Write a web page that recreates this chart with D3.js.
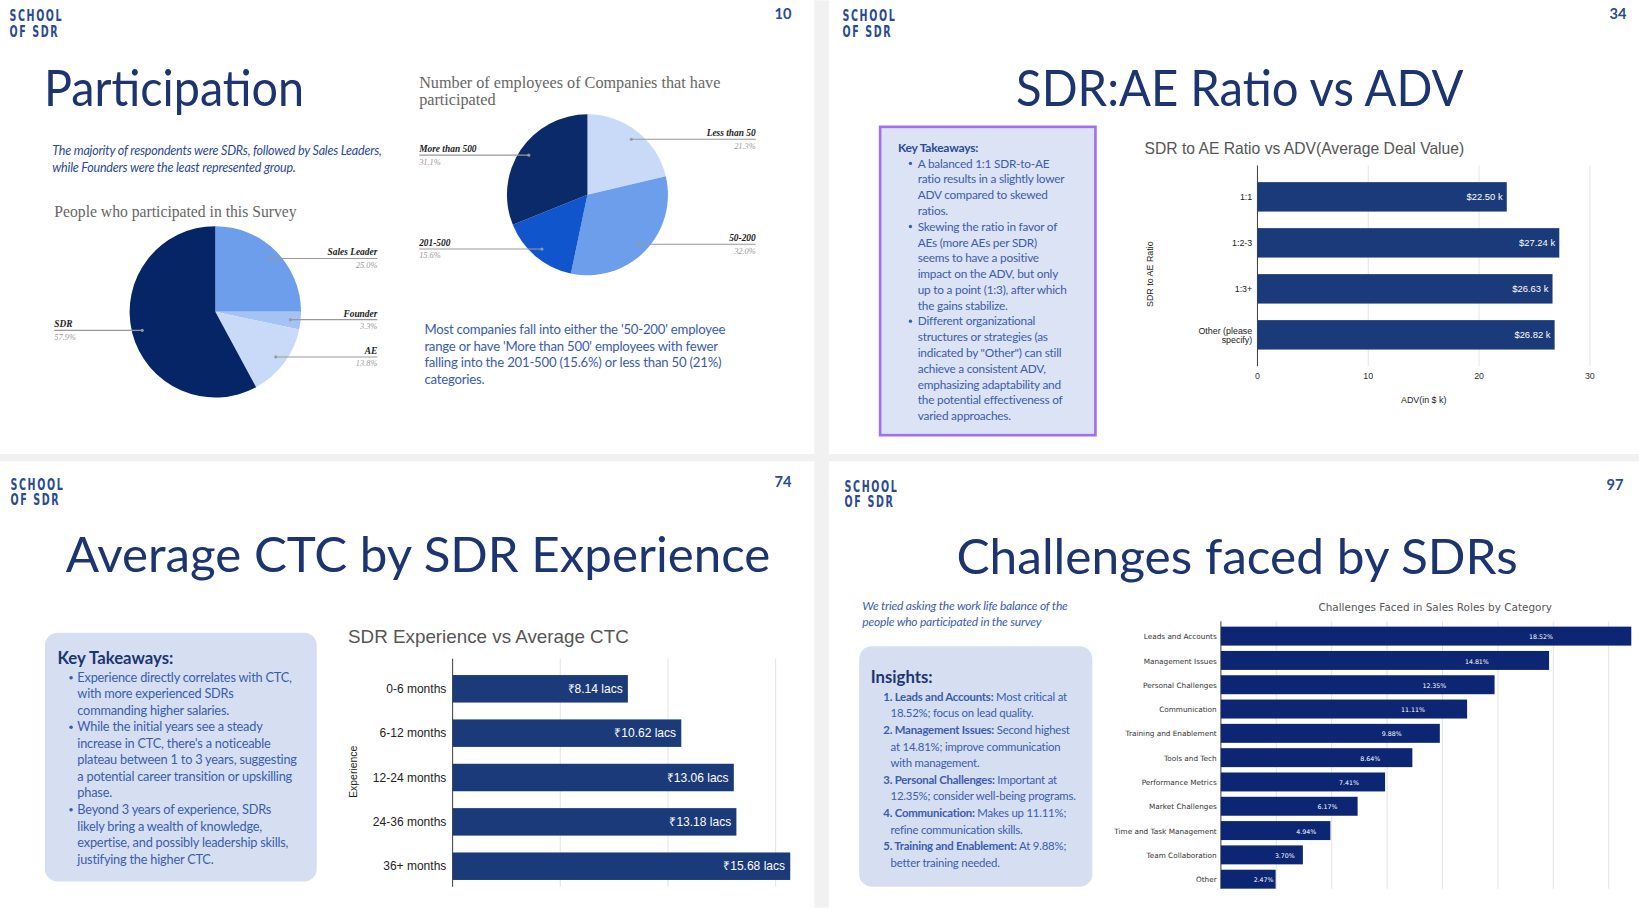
<!DOCTYPE html>
<html><head><meta charset="utf-8">
<script src="https://cdn.jsdelivr.net/npm/d3@7"></script>
<style>body{margin:0;background:#fff}svg{display:block}</style>
</head><body>
<script>
// ---- data ----
const roleLabels = ["Sales Leader","Founder","AE","SDR"];
const roleValues = [25.0,3.3,13.8,57.9];
const sizeLabels = ["Less than 50","50-200","201-500","More than 500"];
const sizeValues = [21.3,32.0,15.6,31.1];
const ratioCats = ["1:1","1:2-3","1:3+","Other (please specify)"];
const ratioValues = [22.50,27.24,26.63,26.82];
const ratioTicks = [0,10,20,30];
const expCats = ["0-6 months","6-12 months","12-24 months","24-36 months","36+ months"];
const expValues = [8.14,10.62,13.06,13.18,15.68];
const expTicks = [0,5,10,15];
const chalCats = ["Leads and Accounts","Management Issues","Personal Challenges","Communication","Training and Enablement","Tools and Tech","Performance Metrics","Market Challenges","Time and Task Management","Team Collaboration","Other"];
const chalValues = [18.52,14.81,12.35,11.11,9.88,8.64,7.41,6.17,4.94,3.70,2.47];
const chalTicks = [0,2.5,5,7.5,10,12.5,15,17.5];

const svg = d3.select("body").append("svg").attr("width",1639).attr("height",908)
  .attr("viewBox","0 0 1568 868");
const NAVY="#1c3570", BAR="#1b3a7a";
svg.append("rect").attr("width",1568).attr("height",868).attr("fill","#fff");
svg.append("rect").attr("x",779).attr("y",0).attr("width",14).attr("height",868).attr("fill","#f1f1f1");
svg.append("rect").attr("x",0).attr("y",434).attr("width",1568).attr("height",7).attr("fill","#f1f1f1");

function logo(x,y){
  const g=svg.append("g").attr("transform",`translate(${x},${y}) scale(0.78,1.15)`).attr("font-family","DejaVu Sans Condensed, DejaVu Sans").attr("font-weight","bold").attr("font-size",13).attr("fill","#2a4a93").attr("letter-spacing",2);
  g.append("text").attr("x",0).attr("y",0).text("SCHOOL");
  g.append("text").attr("x",0).attr("y",13).text("OF SDR");
}
logo(9,20);logo(806,20);logo(10,468);logo(808,470);
const pn=[[749,18,"10"],[1548,18,"34"],[749,466,"74"],[1545,468,"97"]];
pn.forEach(p=>svg.append("text").attr("x",p[0]).attr("y",p[1]).attr("text-anchor","middle").attr("font-family","Lato").attr("font-weight","bold").attr("font-size",14).attr("fill","#2a4a93").text(p[2]));

function title(x,y,t,size,len){svg.append("text").attr("x",x).attr("y",y).attr("font-family","Lato").attr("font-size",size).attr("fill",NAVY).attr("textLength",len).attr("lengthAdjust","spacingAndGlyphs").text(t);}
title(42,101,"Participation",48,249);
title(972,101,"SDR:AE Ratio vs ADV",48,428);
title(63,547,"Average CTC by SDR Experience",46,674);
title(915,549,"Challenges faced by SDRs",46,537);

function lines(x,y,arr,opt){
  const t=svg.append("text").attr("font-family","Lato").attr("font-size",opt.size).attr("fill",opt.fill).attr("font-style",opt.italic?"italic":"normal").attr("letter-spacing",-0.2);
  arr.forEach((l,i)=>{
    const ts=t.append("tspan").attr("x",x+(l.indent||0)).attr("y",y+i*opt.lh);
    if(l.b){ts.append("tspan").attr("font-weight","bold").text(l.b);}
    ts.append("tspan").text(l.t||"");
  });
}
// ---- slide 1 ----
lines(50,148,[{t:"The majority of respondents were SDRs, followed by Sales Leaders,"},{t:"while Founders were the least represented group."}],{size:12,fill:"#2a4a9a",lh:16,italic:true});
svg.append("text").attr("x",52).attr("y",207).attr("font-family","Liberation Serif").attr("font-size",15).attr("fill","#666").text("People who participated in this Survey");
svg.append("text").attr("x",401).attr("y",84).attr("font-family","Liberation Serif").attr("font-size",15.5).attr("fill","#666").text("Number of employees of Companies that have");
svg.append("text").attr("x",401).attr("y",100).attr("font-family","Liberation Serif").attr("font-size",15.5).attr("fill","#666").text("participated");
lines(406,319,[{t:"Most companies fall into either the '50-200' employee"},{t:"range or have 'More than 500' employees with fewer"},{t:"falling into the 201-500 (15.6%) or less than 50 (21%)"},{t:"categories."}],{size:12.6,fill:"#3a5cb0",lh:16});

function pie(cx,cy,r,labels,values,colors,labelX){
  const arcs=d3.pie().sort(null)(values);
  const arc=d3.arc().innerRadius(0).outerRadius(r);
  const g=svg.append("g").attr("transform",`translate(${cx},${cy})`);
  g.selectAll("path").data(arcs).join("path").attr("d",arc).attr("fill",(d,i)=>colors[i]);
  arcs.forEach((a,i)=>{
    const c=d3.arc().innerRadius(r*0.88).outerRadius(r*0.88).centroid(a);
    const px=cx+c[0],py=cy+c[1];
    svg.append("line").attr("x1",px).attr("y1",py).attr("x2",labelX[i]).attr("y2",py).attr("stroke","#999").attr("stroke-width",1);
    svg.append("circle").attr("cx",px).attr("cy",py).attr("r",1.5).attr("fill","#999");
    const anchor=labelX[i]>cx?"end":"start";
    svg.append("text").attr("x",labelX[i]).attr("y",py-3).attr("text-anchor",anchor).attr("font-family","Liberation Serif").attr("font-style","italic").attr("font-weight","bold").attr("font-size",9).attr("fill","#222").text(labels[i]);
    svg.append("text").attr("x",labelX[i]).attr("y",py+9).attr("text-anchor",anchor).attr("font-family","Liberation Serif").attr("font-style","italic").attr("font-size",8).attr("fill","#999").text(values[i].toFixed(1)+"%");
  });
}
pie(206,298,82,roleLabels,roleValues,["#6d9eeb","#a4c2f4","#c9daf8","#052567"],[361,361,361,52]);
pie(562,186,77,sizeLabels,sizeValues,["#c9daf8","#6d9eeb","#1155cc","#0a2a6a"],[723,723,401,401]);

// ---- slide 2 ----
svg.append("rect").attr("x",842).attr("y",121).attr("width",206).attr("height",295).attr("fill","#dbe3f4").attr("stroke","#a070f0").attr("stroke-width",2.5);
lines(859,145,[{b:"Key Takeaways:"}],{size:11.5,fill:"#2a4a9a",lh:15});
const kt=["A balanced 1:1 SDR-to-AE","ratio results in a slightly lower","ADV compared to skewed","ratios.","Skewing the ratio in favor of","AEs (more AEs per SDR)","seems to have a positive","impact on the ADV, but only","up to a point (1:3), after which","the gains stabilize.","Different organizational","structures or strategies (as","indicated by \"Other\") can still","achieve a consistent ADV,","emphasizing adaptability and","the potential effectiveness of","varied approaches."];
const bul=[0,4,10];
lines(878,160,kt.map(t=>({t})),{size:11.3,fill:"#3a5cb0",lh:15.1});
bul.forEach(i=>svg.append("circle").attr("cx",871).attr("cy",156+i*15.1).attr("r",1.6).attr("fill","#3a5cb0"));

svg.append("text").attr("x",1095).attr("y",147).attr("font-family","Liberation Sans").attr("font-size",15).attr("fill","#555").text("SDR to AE Ratio vs ADV(Average Deal Value)");
{
  const x=d3.scaleLinear().domain([0,30]).range([1203,1521]);
  const y=d3.scaleBand().domain(ratioCats).range([166,342]).paddingInner(0.36).paddingOuter(0.18);
  const g=svg.append("g");
  g.selectAll(".gl").data(ratioTicks).join("line").attr("x1",d=>x(d)).attr("x2",d=>x(d)).attr("y1",158).attr("y2",350).attr("stroke",d=>d?"#e6e6e6":"#444");
  g.selectAll(".b").data(ratioValues).join("rect").attr("x",x(0)).attr("y",(d,i)=>y(ratioCats[i])).attr("width",d=>x(d)-x(0)).attr("height",y.bandwidth()).attr("fill",BAR);
  g.selectAll(".v").data(ratioValues).join("text").attr("x",d=>x(d)-4).attr("y",(d,i)=>y(ratioCats[i])+y.bandwidth()/2+3).attr("text-anchor","end").attr("font-family","Liberation Sans Narrow, Liberation Sans").attr("font-size",9).attr("fill","#fff").text(d=>"$"+d.toFixed(2)+" k");
  ratioCats.forEach(c=>{
    const cy=y(c)+y.bandwidth()/2;
    if(c.startsWith("Other")){
      g.append("text").attr("x",1198).attr("y",cy-1).attr("text-anchor","end").attr("font-family","Liberation Sans").attr("font-size",8.5).attr("fill","#222").text("Other (please");
      g.append("text").attr("x",1198).attr("y",cy+8).attr("text-anchor","end").attr("font-family","Liberation Sans").attr("font-size",8.5).attr("fill","#222").text("specify)");
    } else g.append("text").attr("x",1198).attr("y",cy+3).attr("text-anchor","end").attr("font-family","Liberation Sans").attr("font-size",8.5).attr("fill","#222").text(c);
  });
  g.selectAll(".t").data(ratioTicks).join("text").attr("x",d=>x(d)).attr("y",362).attr("text-anchor","middle").attr("font-family","Liberation Sans").attr("font-size",8.5).attr("fill","#333").text(d=>d);
  g.append("text").attr("x",1362).attr("y",385).attr("text-anchor","middle").attr("font-family","Liberation Sans").attr("font-size",8.5).attr("fill","#222").text("ADV(in $ k)");
  g.append("text").attr("transform","translate(1103,262) rotate(-90)").attr("text-anchor","middle").attr("font-family","Liberation Sans").attr("font-size",8.5).attr("fill","#222").text("SDR to AE Ratio");
}

// ---- slide 3 ----
svg.append("rect").attr("x",43).attr("y",605).attr("width",260).attr("height",238).attr("rx",12).attr("fill","#d5dff1");
svg.append("text").attr("x",55).attr("y",635).attr("font-family","Lato").attr("font-weight","bold").attr("font-size",16).attr("fill","#1c3570").text("Key Takeaways:");
const kt3=["Experience directly correlates with CTC,","with more experienced SDRs","commanding higher salaries.","While the initial years see a steady","increase in CTC, there's a noticeable","plateau between 1 to 3 years, suggesting","a potential career transition or upskilling","phase.","Beyond 3 years of experience, SDRs","likely bring a wealth of knowledge,","expertise, and possibly leadership skills,","justifying the higher CTC."];
lines(74,652,kt3.map(t=>({t})),{size:12.2,fill:"#3a5cb0",lh:15.8});
[0,3,8].forEach(i=>svg.append("circle").attr("cx",68).attr("cy",648+i*15.8).attr("r",1.7).attr("fill","#3a5cb0"));
svg.append("text").attr("x",333).attr("y",615).attr("font-family","Liberation Sans").attr("font-size",18).attr("fill","#555").text("SDR Experience vs Average CTC");
{
  const x=d3.scaleLinear().domain([0,5]).range([433,536]);
  const y=d3.scaleBand().domain(expCats).range([637,850]).paddingInner(0.38).paddingOuter(0.2);
  const g=svg.append("g");
  g.selectAll(".gl").data(expTicks).join("line").attr("x1",d=>x(d)).attr("x2",d=>x(d)).attr("y1",630).attr("y2",848).attr("stroke",d=>d?"#e4e4e4":"#444");
  g.selectAll(".b").data(expValues).join("rect").attr("x",x(0)).attr("y",(d,i)=>y(expCats[i])).attr("width",d=>x(d)-x(0)).attr("height",y.bandwidth()).attr("fill",BAR);
  g.selectAll(".v").data(expValues).join("text").attr("x",d=>x(d)-5).attr("y",(d,i)=>y(expCats[i])+y.bandwidth()/2+4).attr("text-anchor","end").attr("font-family","Liberation Sans Narrow, Liberation Sans").attr("font-size",11.5).attr("fill","#fff").text(d=>"₹"+d.toFixed(2)+" lacs");
  g.selectAll(".c").data(expCats).join("text").attr("x",427).attr("y",d=>y(d)+y.bandwidth()/2+4).attr("text-anchor","end").attr("font-family","Liberation Sans Narrow, Liberation Sans").attr("font-size",11.5).attr("fill","#222").text(d=>d);
  g.append("text").attr("transform","translate(342,738) rotate(-90)").attr("text-anchor","middle").attr("font-family","Liberation Sans").attr("font-size",10).attr("fill","#222").text("Experience");
}

// ---- slide 4 ----
lines(825,583,[{t:"We tried asking the work life balance of the"},{t:"people who participated in the survey"}],{size:11.5,fill:"#3a5cb0",lh:16,italic:true});
svg.append("rect").attr("x",822).attr("y",618).attr("width",223).attr("height",230).attr("rx",12).attr("fill","#d5dff1");
svg.append("text").attr("x",833).attr("y",653).attr("font-family","Lato").attr("font-weight","bold").attr("font-size",16).attr("fill","#1c3570").text("Insights:");
lines(845,670,[
 {b:"1. Leads and Accounts:",t:" Most critical at"},{t:"18.52%; focus on lead quality.",indent:7},
 {b:"2. Management Issues:",t:" Second highest"},{t:"at 14.81%; improve communication",indent:7},{t:"with management.",indent:7},
 {b:"3. Personal Challenges:",t:" Important at"},{t:"12.35%; consider well-being programs.",indent:7},
 {b:"4. Communication:",t:" Makes up 11.11%;"},{t:"refine communication skills.",indent:7},
 {b:"5. Training and Enablement:",t:" At 9.88%;"},{t:"better training needed.",indent:7}
],{size:10.9,fill:"#3a5cb0",lh:15.9});
svg.append("text").attr("x",1373).attr("y",584).attr("text-anchor","middle").attr("font-family","DejaVu Sans").attr("font-size",10).attr("fill","#555").text("Challenges Faced in Sales Roles by Category");
{
  const x=d3.scaleLinear().domain([0,2.5]).range([1168,1221]);
  const y=d3.scaleBand().domain(chalCats).range([598,851]).paddingInner(0.22).paddingOuter(0.05);
  const g=svg.append("g");
  g.selectAll(".gl").data(chalTicks).join("line").attr("x1",d=>x(d)).attr("x2",d=>x(d)).attr("y1",594).attr("y2",850).attr("stroke",d=>d?"#e4e4e4":"#444");
  g.selectAll(".b").data(chalValues).join("rect").attr("x",x(0)).attr("y",(d,i)=>y(chalCats[i])).attr("width",d=>x(d)-x(0)).attr("height",y.bandwidth()).attr("fill","#0c2673");
  g.selectAll(".v").data(chalValues).join("text").attr("x",(d,i)=>x(0)+(x(d)-x(0))*0.78).attr("y",(d,i)=>y(chalCats[i])+y.bandwidth()/2+3).attr("text-anchor","middle").attr("font-family","DejaVu Sans").attr("font-size",6).attr("fill","#fff").text(d=>d.toFixed(2)+"%");
  g.selectAll(".c").data(chalCats).join("text").attr("x",1164).attr("y",d=>y(d)+y.bandwidth()/2+3).attr("text-anchor","end").attr("font-family","DejaVu Sans").attr("font-size",7).attr("fill","#333").text(d=>d);
}
</script>
</body></html>
